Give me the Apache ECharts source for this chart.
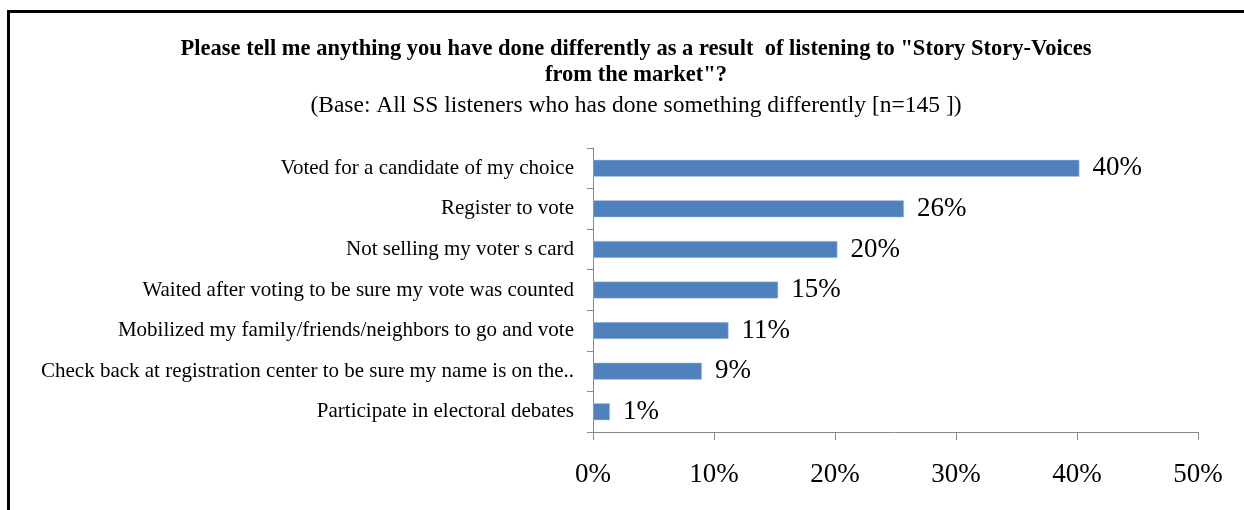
<!DOCTYPE html>
<html>
<head>
<meta charset="utf-8">
<script src="https://cdn.jsdelivr.net/npm/echarts@6/dist/echarts.min.js"></script>
<style>
html,body{margin:0;padding:0;background:#fff;}
#chart{width:1244px;height:510px;}
</style>
</head>
<body>
<div id="chart"></div>
<script>
const categories = [
  "Voted for a candidate of my choice",
  "Register to vote",
  "Not selling my voter s card",
  "Waited after voting to be sure my vote was counted",
  "Mobilized my family/friends/neighbors to go and vote",
  "Check back at registration center to be sure my name is on the..",
  "Participate in electoral debates"
];
const values = [40.2, 25.7, 20.2, 15.3, 11.2, 9.0, 1.4];
const valueLabels = ["40%", "26%", "20%", "15%", "11%", "9%", "1%"];
const xTicks = [0, 10, 20, 30, 40, 50];

const titleText = 'Please tell me anything you have done differently as a result  of listening to "Story Story-Voices\nfrom the market"?';
const subText = '(Base: All SS listeners who has done something differently [n=145 ])';

const chart = echarts.init(document.getElementById('chart'));
chart.setOption({
  animation: false,
  backgroundColor: '#fff',
  title: {
    text: titleText,
    subtext: subText,
    left: 631,
    textAlign: 'center',
    top: 31,
    itemGap: 5,
    textStyle: {
      fontFamily: 'Liberation Serif',
      fontWeight: 'bold',
      fontSize: 22.5,
      lineHeight: 26,
      color: '#000'
    },
    subtextStyle: {
      fontFamily: 'Liberation Serif',
      fontSize: 23.5,
      color: '#000',
      lineHeight: 26
    }
  },
  graphic: [
    { type: 'line', shape: { x1: 7, y1: 11.5, x2: 1244, y2: 11.5 }, style: { stroke: '#000', lineWidth: 3 } },
    { type: 'line', shape: { x1: 8.5, y1: 10, x2: 8.5, y2: 510 }, style: { stroke: '#000', lineWidth: 3 } }
  ],
  grid: { left: 593, right: 46, top: 148, bottom: 78, containLabel: false },
  xAxis: {
    type: 'value',
    min: 0,
    max: 50,
    interval: 10,
    axisLine: { show: true, lineStyle: { color: '#888', width: 1 } },
    axisTick: { show: true, length: 8, lineStyle: { color: '#888' } },
    splitLine: { show: false },
    axisLabel: {
      margin: 29,
      fontFamily: 'Liberation Serif',
      fontSize: 27,
      color: '#000',
      formatter: function (v) { return xTicks.indexOf(v) >= 0 ? v + '%' : ''; }
    }
  },
  yAxis: {
    type: 'category',
    data: categories,
    inverse: true,
    axisLine: { show: true, lineStyle: { color: '#888', width: 1 } },
    axisTick: { show: true, length: 6, lineStyle: { color: '#888' } },
    axisLabel: {
      margin: 19,
      fontFamily: 'Liberation Serif',
      fontSize: 21,
      color: '#000'
    }
  },
  series: [{
    type: 'bar',
    data: values,
    barWidth: 17,
    itemStyle: { color: '#4F81BD', borderColor: '#B9CDE5', borderWidth: 0.5 },
    label: {
      show: true,
      position: 'right',
      distance: 13,
      fontFamily: 'Liberation Serif',
      fontSize: 27,
      color: '#000',
      formatter: function (p) { return valueLabels[p.dataIndex]; }
    }
  }]
});
</script>
</body>
</html>
